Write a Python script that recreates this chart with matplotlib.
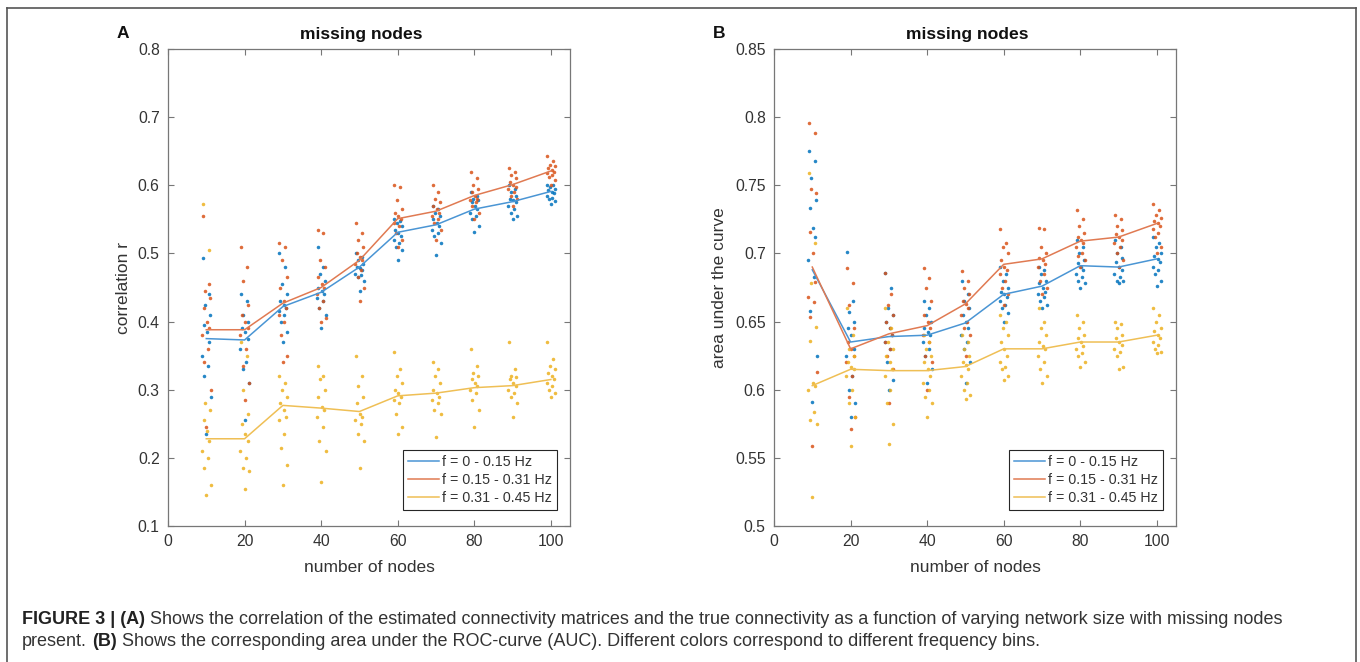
import matplotlib
matplotlib.use('Agg')
import matplotlib.pyplot as plt
import numpy as np
from matplotlib.lines import Line2D

plt.rcParams['font.family'] = ['Liberation Sans', 'DejaVu Sans']

# ---------------- data ----------------
nodes = [10, 20, 30, 40, 50, 60, 70, 80, 90, 100]
series_labels = ['f = 0 - 0.15 Hz', 'f = 0.15 - 0.31 Hz', 'f = 0.31 - 0.45 Hz']

# Panel A: correlation r
a_blue_mean = [0.375, 0.373, 0.422, 0.443, 0.480, 0.531, 0.542, 0.565, 0.576, 0.591]
a_orange_mean = [0.388, 0.388, 0.427, 0.450, 0.490, 0.551, 0.562, 0.585, 0.601, 0.621]
a_yellow_mean = [0.228, 0.228, 0.277, 0.273, 0.268, 0.291, 0.295, 0.303, 0.306, 0.315]

a_blue_pts = [
    [0.493, 0.44, 0.425, 0.41, 0.395, 0.385, 0.37, 0.35, 0.335, 0.32, 0.29, 0.235],
    [0.44, 0.43, 0.41, 0.40, 0.39, 0.385, 0.375, 0.36, 0.34, 0.33, 0.31, 0.255],
    [0.50, 0.48, 0.455, 0.44, 0.43, 0.425, 0.42, 0.415, 0.41, 0.40, 0.385, 0.37],
    [0.51, 0.48, 0.47, 0.46, 0.45, 0.445, 0.44, 0.435, 0.43, 0.42, 0.41, 0.39],
    [0.50, 0.495, 0.49, 0.485, 0.48, 0.478, 0.475, 0.47, 0.468, 0.465, 0.46, 0.445],
    [0.55, 0.548, 0.545, 0.54, 0.535, 0.53, 0.525, 0.52, 0.515, 0.51, 0.505, 0.49],
    [0.57, 0.565, 0.56, 0.555, 0.55, 0.545, 0.54, 0.535, 0.53, 0.525, 0.515, 0.497],
    [0.59, 0.585, 0.58, 0.578, 0.575, 0.57, 0.565, 0.56, 0.555, 0.55, 0.54, 0.532],
    [0.60, 0.595, 0.59, 0.585, 0.58, 0.578, 0.575, 0.57, 0.565, 0.56, 0.555, 0.55],
    [0.60, 0.60, 0.598, 0.595, 0.593, 0.59, 0.588, 0.585, 0.582, 0.58, 0.577, 0.572],
]
a_orange_pts = [
    [0.555, 0.455, 0.445, 0.435, 0.42, 0.40, 0.39, 0.38, 0.36, 0.34, 0.30, 0.245],
    [0.51, 0.48, 0.46, 0.425, 0.41, 0.40, 0.39, 0.38, 0.36, 0.335, 0.31, 0.285],
    [0.515, 0.51, 0.49, 0.465, 0.45, 0.43, 0.42, 0.41, 0.40, 0.38, 0.35, 0.34],
    [0.535, 0.53, 0.49, 0.48, 0.465, 0.455, 0.45, 0.44, 0.43, 0.42, 0.405, 0.40],
    [0.545, 0.53, 0.52, 0.51, 0.50, 0.495, 0.49, 0.485, 0.475, 0.465, 0.45, 0.43],
    [0.60, 0.598, 0.578, 0.565, 0.56, 0.555, 0.55, 0.545, 0.54, 0.53, 0.52, 0.51],
    [0.60, 0.59, 0.58, 0.575, 0.57, 0.565, 0.56, 0.555, 0.55, 0.545, 0.535, 0.52],
    [0.62, 0.61, 0.60, 0.595, 0.59, 0.585, 0.58, 0.578, 0.575, 0.57, 0.56, 0.55],
    [0.625, 0.62, 0.615, 0.61, 0.605, 0.60, 0.598, 0.595, 0.59, 0.585, 0.58, 0.57],
    [0.643, 0.635, 0.63, 0.628, 0.625, 0.622, 0.62, 0.618, 0.615, 0.612, 0.608, 0.60],
]
a_yellow_pts = [
    [0.573, 0.505, 0.28, 0.27, 0.255, 0.24, 0.225, 0.21, 0.20, 0.185, 0.16, 0.145],
    [0.37, 0.35, 0.30, 0.265, 0.25, 0.235, 0.225, 0.21, 0.20, 0.185, 0.18, 0.155],
    [0.32, 0.31, 0.30, 0.29, 0.28, 0.27, 0.26, 0.255, 0.235, 0.215, 0.19, 0.16],
    [0.335, 0.32, 0.315, 0.30, 0.29, 0.275, 0.27, 0.26, 0.245, 0.225, 0.21, 0.165],
    [0.35, 0.32, 0.305, 0.29, 0.28, 0.265, 0.26, 0.255, 0.25, 0.235, 0.225, 0.185],
    [0.355, 0.33, 0.32, 0.31, 0.30, 0.295, 0.29, 0.285, 0.28, 0.265, 0.245, 0.235],
    [0.34, 0.33, 0.32, 0.31, 0.30, 0.295, 0.29, 0.285, 0.28, 0.27, 0.265, 0.23],
    [0.36, 0.335, 0.325, 0.32, 0.315, 0.31, 0.305, 0.30, 0.295, 0.285, 0.27, 0.245],
    [0.37, 0.33, 0.32, 0.318, 0.315, 0.31, 0.305, 0.30, 0.295, 0.29, 0.28, 0.26],
    [0.37, 0.345, 0.335, 0.33, 0.325, 0.32, 0.315, 0.31, 0.305, 0.30, 0.295, 0.29],
]

# Panel B: area under the curve
b_blue_mean = [0.688, 0.635, 0.639, 0.640, 0.649, 0.670, 0.676, 0.691, 0.690, 0.696]
b_orange_mean = [0.690, 0.630, 0.641, 0.647, 0.663, 0.692, 0.696, 0.709, 0.712, 0.722]
b_yellow_mean = [0.603, 0.615, 0.614, 0.614, 0.617, 0.630, 0.630, 0.635, 0.635, 0.640]

b_blue_pts = [
    [0.775, 0.768, 0.755, 0.739, 0.733, 0.719, 0.712, 0.695, 0.683, 0.658, 0.625, 0.591],
    [0.701, 0.665, 0.657, 0.65, 0.645, 0.64, 0.63, 0.625, 0.61, 0.60, 0.59, 0.58],
    [0.686, 0.675, 0.66, 0.655, 0.65, 0.645, 0.64, 0.635, 0.63, 0.62, 0.607, 0.60],
    [0.665, 0.66, 0.655, 0.65, 0.645, 0.642, 0.64, 0.635, 0.63, 0.625, 0.615, 0.605],
    [0.68, 0.67, 0.665, 0.66, 0.655, 0.65, 0.645, 0.64, 0.635, 0.63, 0.62, 0.605],
    [0.69, 0.685, 0.68, 0.675, 0.672, 0.67, 0.668, 0.665, 0.662, 0.66, 0.656, 0.65],
    [0.69, 0.688, 0.685, 0.68, 0.678, 0.675, 0.672, 0.67, 0.668, 0.665, 0.662, 0.66],
    [0.71, 0.705, 0.70, 0.695, 0.693, 0.69, 0.688, 0.685, 0.683, 0.68, 0.678, 0.675],
    [0.71, 0.705, 0.70, 0.697, 0.694, 0.69, 0.688, 0.685, 0.683, 0.68, 0.68, 0.678],
    [0.712, 0.708, 0.705, 0.70, 0.698, 0.696, 0.694, 0.69, 0.688, 0.685, 0.68, 0.676],
]
b_orange_pts = [
    [0.796, 0.788, 0.747, 0.744, 0.716, 0.70, 0.679, 0.668, 0.664, 0.653, 0.613, 0.559],
    [0.689, 0.678, 0.662, 0.645, 0.635, 0.63, 0.625, 0.62, 0.61, 0.595, 0.58, 0.571],
    [0.686, 0.67, 0.662, 0.655, 0.65, 0.645, 0.64, 0.635, 0.63, 0.625, 0.615, 0.59],
    [0.689, 0.682, 0.675, 0.665, 0.655, 0.65, 0.645, 0.64, 0.635, 0.625, 0.62, 0.60],
    [0.687, 0.68, 0.675, 0.67, 0.665, 0.663, 0.66, 0.655, 0.65, 0.645, 0.64, 0.625],
    [0.718, 0.708, 0.705, 0.70, 0.695, 0.69, 0.688, 0.685, 0.68, 0.675, 0.67, 0.662],
    [0.719, 0.718, 0.705, 0.70, 0.697, 0.695, 0.692, 0.69, 0.685, 0.68, 0.675, 0.67],
    [0.732, 0.725, 0.72, 0.715, 0.712, 0.71, 0.708, 0.705, 0.70, 0.698, 0.695, 0.69],
    [0.728, 0.725, 0.72, 0.717, 0.714, 0.712, 0.71, 0.708, 0.705, 0.70, 0.695, 0.69],
    [0.736, 0.732, 0.728, 0.726, 0.724, 0.722, 0.72, 0.718, 0.715, 0.712, 0.705, 0.70],
]
b_yellow_pts = [
    [0.759, 0.708, 0.678, 0.646, 0.636, 0.605, 0.603, 0.60, 0.584, 0.578, 0.575, 0.521],
    [0.66, 0.64, 0.63, 0.625, 0.62, 0.617, 0.615, 0.61, 0.60, 0.59, 0.58, 0.559],
    [0.66, 0.645, 0.635, 0.63, 0.625, 0.62, 0.615, 0.61, 0.60, 0.59, 0.575, 0.56],
    [0.64, 0.635, 0.63, 0.625, 0.62, 0.615, 0.61, 0.605, 0.60, 0.595, 0.59, 0.58],
    [0.64, 0.635, 0.63, 0.625, 0.62, 0.618, 0.615, 0.61, 0.605, 0.60, 0.596, 0.593],
    [0.655, 0.65, 0.645, 0.64, 0.635, 0.63, 0.625, 0.62, 0.617, 0.615, 0.61, 0.607],
    [0.66, 0.65, 0.645, 0.64, 0.635, 0.632, 0.63, 0.625, 0.62, 0.615, 0.61, 0.605],
    [0.655, 0.65, 0.645, 0.64, 0.638, 0.635, 0.632, 0.63, 0.627, 0.625, 0.62, 0.617],
    [0.65, 0.648, 0.645, 0.64, 0.638, 0.635, 0.633, 0.63, 0.628, 0.625, 0.617, 0.615],
    [0.66, 0.655, 0.65, 0.645, 0.643, 0.64, 0.638, 0.635, 0.633, 0.63, 0.628, 0.627],
]

a_yticks = [0.1, 0.2, 0.3, 0.4, 0.5, 0.6, 0.7, 0.8]
b_yticks = [0.5, 0.55, 0.6, 0.65, 0.7, 0.75, 0.8, 0.85]
xticks = [0, 20, 40, 60, 80, 100]

caption_line1 = [("FIGURE 3 | (A)", True),
                 ("Shows the correlation of the estimated connectivity matrices and the true connectivity "
                  "as a function of varying network size with missing nodes", False)]
caption_line2 = [("present.", False), ("(B)", True),
                 ("Shows the corresponding area under the ROC-curve (AUC). Different colors correspond "
                  "to different frequency bins.", False)]

# ---------------- style ----------------
pt_colors = ['#0072BD', '#D95319', '#EDB120']
line_colors = ['#4a95d4', '#e07a52', '#efbf55']
jitter = [-0.9, 0.6, -0.3, 1.0, -0.7, 0.2, 0.8, -1.1, 0.4, -0.5, 1.2, 0.05]
spine_c = '#777777'
text_c = '#333333'

W, H = 1360, 662
fig = plt.figure(figsize=(W / 100, H / 100), dpi=100)
fig.patch.set_facecolor('white')


def px_axes(l, t, r, b):
    return fig.add_axes([l / W, 1 - b / H, (r - l) / W, (b - t) / H])


def draw_panel(ax, pts_sets, means_sets, ylim, yticks, ylabel, ylab_x, letter, letter_x):
    for pts, col in zip(pts_sets, pt_colors):
        for xi, vals in zip(nodes, pts):
            xs = xi + np.array(jitter[:len(vals)])
            ax.scatter(xs, vals, s=6.5, color=col, linewidths=0, alpha=0.85, zorder=2)
    for means, col, lab in zip(means_sets, line_colors, series_labels):
        ax.plot(nodes, means, color=col, lw=1.1, label=lab, zorder=3)
    ax.set_xlim(0, 105)
    ax.set_ylim(*ylim)
    ax.set_xticks(xticks)
    ax.set_xticklabels([str(v) for v in xticks])
    ax.set_yticks(yticks)
    ax.set_yticklabels(['%g' % v for v in yticks])
    ax.tick_params(direction='in', length=4, width=0.8, color=spine_c, top=True, right=True,
                   labelsize=11.3, labelcolor=text_c, pad=6)
    for s in ax.spines.values():
        s.set_color(spine_c)
        s.set_linewidth(0.9)
    ax.set_xlabel('number of nodes', fontsize=12.5, color=text_c)
    ax.xaxis.label.set_va('center')
    ax.xaxis.set_label_coords(0.5, (526 - 568) / 477)
    ax.set_ylabel(ylabel, fontsize=12.5, color=text_c)
    ax.yaxis.label.set_va('center')
    ax.yaxis.set_label_coords(ylab_x, 0.5)
    ax.set_title('missing nodes', fontsize=12.6, fontweight='bold', color='#111111', x=0.48, pad=7)
    ax.text(letter_x, (49 - 34) / 477 + 1.0, letter, transform=ax.transAxes, fontsize=12.5,
            fontweight='bold', color='#111111', ha='center', va='center')
    leg = ax.legend(loc='lower right', bbox_to_anchor=(0.9677, 0.0335), borderaxespad=0,
                    fontsize=10.3, frameon=True, fancybox=False, framealpha=1,
                    handlelength=2.2, handletextpad=0.2, labelspacing=0.28, borderpad=0.35)
    leg.get_frame().set_edgecolor('#262626')
    leg.get_frame().set_linewidth(0.8)
    for t in leg.get_texts():
        t.set_color(text_c)


axA = px_axes(168, 49, 570, 526)
axB = px_axes(774, 49, 1176, 526)
draw_panel(axA, [a_blue_pts, a_orange_pts, a_yellow_pts], [a_blue_mean, a_orange_mean, a_yellow_mean],
           (0.1, 0.8), a_yticks, 'correlation r', (123 - 168) / 402, 'A', (123 - 168) / 402)
draw_panel(axB, [b_blue_pts, b_orange_pts, b_yellow_pts], [b_blue_mean, b_orange_mean, b_yellow_mean],
           (0.5, 0.85), b_yticks, 'area under the curve', (720 - 774) / 402, 'B', (719 - 774) / 402)

# outer frame
fc = '#555555'
fig.add_artist(Line2D([7 / W, 1356 / W], [1 - 8 / H, 1 - 8 / H], transform=fig.transFigure, color=fc, lw=1.2))
fig.add_artist(Line2D([7 / W, 7 / W], [1 - 8 / H, 0], transform=fig.transFigure, color=fc, lw=1.2))
fig.add_artist(Line2D([1356 / W, 1356 / W], [1 - 8 / H, 0], transform=fig.transFigure, color=fc, lw=1.2))

# caption
renderer = fig.canvas.get_renderer()


def place_runs(runs, x, y, size, draw=True):
    xs = x
    texts = []
    for i, (txt, bold) in enumerate(runs):
        if i > 0:
            xs += 0.278 * size * 100 / 72
        t = fig.text(xs / W, 1 - y / H, txt, fontsize=size, fontweight='bold' if bold else 'normal',
                     va='baseline', ha='left', color='#222222' if bold else '#333333')
        xs += t.get_window_extent(renderer).width
        texts.append(t)
    if not draw:
        for t in texts:
            t.remove()
    return xs


w0 = place_runs(caption_line1, 22, 624, 10, draw=False) - 22
cap_size = 10 * (1287 - 22) / w0
place_runs(caption_line1, 22, 624, cap_size)
place_runs(caption_line2, 22, 646, cap_size)

fig.savefig('out.png', dpi=100)
